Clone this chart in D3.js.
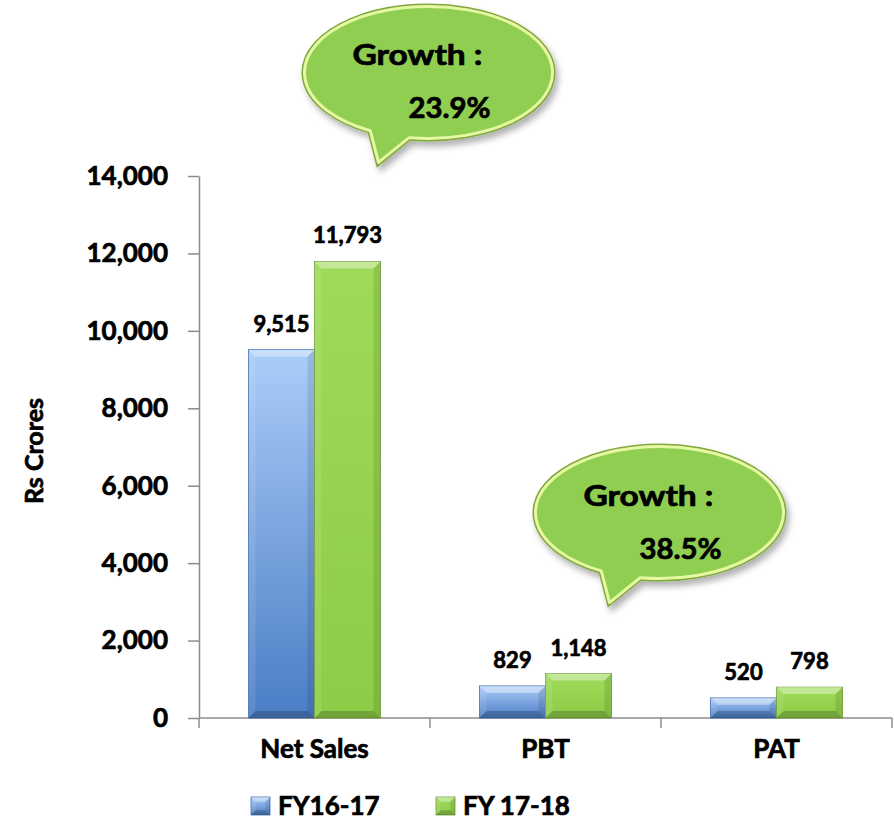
<!DOCTYPE html>
<html>
<head>
<meta charset="utf-8">
<script src="https://cdn.jsdelivr.net/npm/d3@7"></script>
<style>
  body { margin: 0; background: #fff; }
  text { font-family: Lato, "Open Sans", sans-serif; font-weight: bold; fill: #000;
         stroke: #000; stroke-width: 0.7px; }
</style>
</head>
<body>
<div id="main"></div>
<script>
'use strict'

// chart data
const categories = ["Net Sales", "PBT", "PAT"];
const series = ["FY16-17", "FY 17-18"];
const fy1617 = [9515, 829, 520];
const fy1718 = [11793, 1148, 798];
const yTicks = [0, 2000, 4000, 6000, 8000, 10000, 12000, 14000];
const growthCategories = ["Net Sales", "PBT"];
const growthValues = ["23.9%", "38.5%"];

document.addEventListener('DOMContentLoaded', function(){
  drawChart();
});

function drawChart(){
  let svgWidth = 894;
  let svgHeight = 821;
  let left = 199, right = 892, top = 176, bottom = 718;

  let svg = d3.select('#main')
    .append('svg')
    .attr('width', svgWidth)
    .attr('height', svgHeight);

  let defs = svg.append('defs');
  let blueGrad = defs.append('linearGradient').attr('id', 'blueGrad')
    .attr('x1', 0).attr('y1', 0).attr('x2', 0).attr('y2', 1);
  blueGrad.append('stop').attr('offset', '0%').attr('stop-color', '#abcdf8');
  blueGrad.append('stop').attr('offset', '100%').attr('stop-color', '#4a7dc5');
  let greenGrad = defs.append('linearGradient').attr('id', 'greenGrad')
    .attr('x1', 0).attr('y1', 0).attr('x2', 0).attr('y2', 1);
  greenGrad.append('stop').attr('offset', '0%').attr('stop-color', '#9edb59');
  greenGrad.append('stop').attr('offset', '100%').attr('stop-color', '#8dcc47');
  let shadow = defs.append('filter').attr('id', 'shadow')
    .attr('x', '-20%').attr('y', '-20%').attr('width', '140%').attr('height', '150%');
  shadow.append('feDropShadow').attr('dx', 3).attr('dy', 5).attr('stdDeviation', 3)
    .attr('flood-color', '#000').attr('flood-opacity', 0.3);

  let fills = {"FY16-17": "url(#blueGrad)", "FY 17-18": "url(#greenGrad)"};
  let edges = {"FY16-17": "#3d6aa8", "FY 17-18": "#6f9e35"};

  // scales
  let x0 = d3.scaleBand().domain(categories).range([left, right]).padding(0);
  let x1 = d3.scaleBand().domain(series).range([0, x0.bandwidth()])
    .paddingInner(0).paddingOuter(0.75);
  let y = d3.scaleLinear().domain([0, 14000]).range([bottom, top]);

  let rows = categories.map((c, i) => ({cat: c, values: [
    {key: series[0], value: fy1617[i]},
    {key: series[1], value: fy1718[i]}
  ]}));

  // y axis
  let yAxis = d3.axisLeft(y).tickValues(yTicks).tickSize(11).tickPadding(20)
    .tickSizeOuter(0).tickFormat(d3.format(","));
  let gy = svg.append('g').attr('transform', `translate(${left},0)`).call(yAxis);
  gy.selectAll('path, line').attr('stroke', '#8c8c8c').attr('stroke-width', 1.5);
  gy.selectAll('text').style('font-size', '26px');

  // x axis
  let xAxis = d3.axisBottom(x0).tickSize(0).tickPadding(22);
  let gx = svg.append('g').attr('transform', `translate(0,${bottom})`).call(xAxis);
  gx.select('.domain').remove();
  gx.selectAll('text').style('font-size', '26px');
  gx.append('line').attr('x1', left).attr('x2', right).attr('y1', 0).attr('y2', 0)
    .attr('stroke', '#8c8c8c').attr('stroke-width', 1.5);
  let bounds = categories.map(c => x0(c)).concat([right]);
  gx.selectAll('.bound').data(bounds).enter().append('line')
    .attr('x1', d => d).attr('x2', d => d).attr('y1', 0).attr('y2', 10)
    .attr('stroke', '#8c8c8c').attr('stroke-width', 1.5);

  // y title
  svg.append('text')
    .attr('transform', `translate(43,${(top + bottom) / 2 + 4}) rotate(-90)`)
    .attr('text-anchor', 'middle')
    .style('font-size', '25px')
    .text('Rs Crores');

  // bars
  let groups = svg.selectAll('.grp').data(rows).enter().append('g')
    .attr('transform', d => `translate(${x0(d.cat)},0)`);
  groups.each(function(d){
    let g = d3.select(this);
    d.values.forEach(v => {
      let bx = x1(v.key), by = y(v.value), bw = x1.bandwidth(), bh = y(0) - y(v.value);
      bevelBox(g, bx, by, bw, bh, fills[v.key], edges[v.key]);
      g.append('text')
        .attr('x', bx + bw / 2)
        .attr('y', by - 18)
        .attr('text-anchor', 'middle')
        .style('font-size', '22px')
        .text(d3.format(",")(v.value));
    });
  });

  // growth callouts
  let tipOffsets = [99, 71];
  growthCategories.forEach((c, i) => {
    let idx = categories.indexOf(c);
    let tipX = x0(c) + x1(series[1]) + x1.bandwidth() - 2;
    let tipY = y(fy1718[idx]) - tipOffsets[i];
    drawBubble(svg, tipX, tipY, growthValues[i]);
  });

  // legend
  let legend = svg.append('g');
  let legendX = [251, 436];
  series.forEach((s, i) => {
    bevelBox(legend, legendX[i], 797, 19, 18, fills[s], edges[s]);
    legend.append('text')
      .attr('x', legendX[i] + 27)
      .attr('y', 815)
      .style('font-size', '26px')
      .text(s);
  });
}

function bevelBox(g, x, y, w, h, fill, edge){
  let d = Math.min(7, h / 2.5, w / 4);
  g.append('rect').attr('x', x).attr('y', y).attr('width', w).attr('height', h)
    .attr('fill', fill).attr('stroke', edge).attr('stroke-width', 0.8);
  let faces = [
    {pts: [[x, y], [x + w, y], [x + w - d, y + d], [x + d, y + d]], c: '#fff', o: 0.38},
    {pts: [[x, y], [x + d, y + d], [x + d, y + h - d], [x, y + h]], c: '#fff', o: 0.1},
    {pts: [[x + w, y], [x + w, y + h], [x + w - d, y + h - d], [x + w - d, y + d]], c: '#000', o: 0.1},
    {pts: [[x, y + h], [x + d, y + h - d], [x + w - d, y + h - d], [x + w, y + h]], c: '#000', o: 0.2}
  ];
  faces.forEach(f => {
    g.append('polygon').attr('points', f.pts.map(p => p.join(',')).join(' '))
      .attr('fill', f.c).attr('fill-opacity', f.o);
  });
}

function drawBubble(svg, tipX, tipY, value){
  let cx = tipX + 50, cy = tipY - 90, rx = 124, ry = 66;
  let a1 = 99 * Math.PI / 180, a2 = 118 * Math.PI / 180;
  let p1 = [cx + rx * Math.cos(a1), cy + ry * Math.sin(a1)];
  let p2 = [cx + rx * Math.cos(a2), cy + ry * Math.sin(a2)];
  let path = `M${p1[0]},${p1[1]} A${rx},${ry} 0 1 0 ${p2[0]},${p2[1]} L${tipX},${tipY} Z`;
  let g = svg.append('g');
  g.append('path').attr('d', path).attr('fill', '#8fce50')
    .attr('stroke', '#7fa83e').attr('stroke-width', 6).attr('filter', 'url(#shadow)');
  g.append('path').attr('d', path).attr('fill', '#8fce50')
    .attr('stroke', '#e6f8a2').attr('stroke-width', 3).attr('stroke-linejoin', 'round');
  g.append('text').attr('x', cx - 76).attr('y', cy - 7)
    .attr('textLength', 130).attr('lengthAdjust', 'spacingAndGlyphs')
    .style('font-size', '28px').text('Growth :');
  g.append('text').attr('x', cx - 20).attr('y', cy + 46)
    .attr('textLength', 82).attr('lengthAdjust', 'spacingAndGlyphs')
    .style('font-size', '28px').text(value);
}
</script>
</body>
</html>
